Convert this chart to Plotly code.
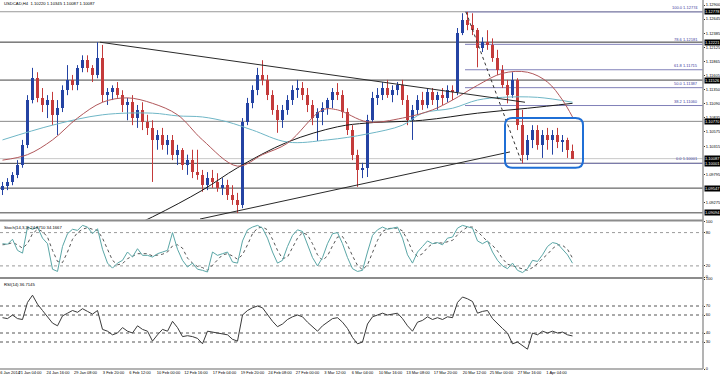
import plotly.graph_objects as go

# ---------------- data (USDCAD H4) ----------------
open_ = [1.0951,1.0959,1.0966,1.0979,1.0997,1.1034,1.1116,1.1156,1.1120,1.1107,
         1.1116,1.1089,1.1101,1.1134,1.1153,1.1143,1.1175,1.1189,1.1175,1.1162,
         1.1193,1.1125,1.1131,1.1138,1.1125,1.1107,1.1112,1.1083,1.1098,1.1076,
         1.1065,1.1043,1.1052,1.1034,1.1043,1.1016,1.1025,1.0997,1.1006,1.0984,
         1.0979,1.0960,1.0973,1.0966,1.0955,1.0960,1.0942,1.0933,1.0924,1.1076,
         1.1110,1.1134,1.1162,1.1153,1.1125,1.1098,1.1079,1.1098,1.1116,1.1134,
         1.1138,1.1125,1.1107,1.1083,1.1094,1.1101,1.1116,1.1131,1.1125,1.1094,
         1.1061,1.1016,1.0988,1.0992,1.1079,1.1120,1.1125,1.1138,1.1125,1.1134,
         1.1143,1.1116,1.1079,1.1098,1.1116,1.1107,1.1131,1.1116,1.1125,1.1120,
         1.1134,1.1131,1.1239,1.1262,1.1253,1.1244,1.1211,1.1222,1.1217,1.1193,
         1.1171,1.1143,1.1125,1.1153,1.1070,1.1016,1.1043,1.1061,1.1034,1.1052,
         1.1043,1.1052,1.1039,1.1043,1.10220]
high_ = [1.0966,1.0973,1.0984,1.1006,1.1043,1.1125,1.1175,1.1167,1.1138,1.1125,
         1.1131,1.1116,1.1143,1.1180,1.1162,1.1180,1.1198,1.1198,1.1180,1.1222,
         1.1217,1.1138,1.1143,1.1149,1.1134,1.1120,1.1125,1.1107,1.1112,1.1089,
         1.1079,1.1061,1.1065,1.1052,1.1052,1.1034,1.1028,1.1016,1.1025,1.1025,
         1.0988,1.0984,1.0988,1.0982,1.0973,1.0970,1.0960,1.0946,1.1083,1.1120,
         1.1143,1.1175,1.1189,1.1162,1.1134,1.1107,1.1107,1.1125,1.1143,1.1153,
         1.1149,1.1138,1.1116,1.1101,1.1112,1.1120,1.1138,1.1147,1.1134,1.1101,
         1.1070,1.1025,1.1001,1.1089,1.1131,1.1138,1.1149,1.1153,1.1143,1.1149,
         1.1153,1.1125,1.1107,1.1125,1.1131,1.1138,1.1138,1.1131,1.1138,1.1143,
         1.1143,1.1248,1.1275,1.12774,1.1275,1.1248,1.1231,1.1244,1.1229,1.1208,
         1.1180,1.1153,1.1167,1.1156,1.1098,1.1052,1.1070,1.1070,1.1061,1.1065,
         1.1061,1.1065,1.1052,1.1047,1.10345]
low_ = [1.0942,1.0951,1.0960,1.0973,1.0992,1.1028,1.1110,1.1112,1.1094,1.1083,
        1.1070,1.1052,1.1094,1.1125,1.1134,1.1134,1.1167,1.1167,1.1149,1.1156,
        1.1112,1.1107,1.1116,1.1120,1.1094,1.1079,1.1070,1.1065,1.1061,1.1052,
        1.0966,1.1025,1.1025,1.1016,1.1006,1.0997,1.0988,1.0979,1.0973,1.0970,
        1.0948,1.0951,1.0955,1.0948,1.0942,1.0933,1.0924,1.0909,1.0918,1.1070,
        1.1101,1.1125,1.1143,1.1116,1.1089,1.1056,1.1065,1.1089,1.1107,1.1120,
        1.1116,1.1094,1.1070,1.1041,1.1070,1.1089,1.1101,1.1116,1.1083,1.1052,
        1.1006,1.0957,1.0973,1.0975,1.1074,1.1107,1.1116,1.1120,1.1112,1.1125,
        1.1107,1.1070,1.1043,1.1089,1.1098,1.1101,1.1107,1.1098,1.1107,1.1112,
        1.1116,1.1125,1.1235,1.1244,1.1235,1.1176,1.1204,1.1208,1.1186,1.1162,
        1.1138,1.1110,1.1120,1.1061,1.10001,1.1006,1.1028,1.1025,1.1010,1.1025,
        1.1016,1.1028,1.1021,1.1010,1.10087]
close_ = [1.0959,1.0966,1.0979,1.0997,1.1034,1.1116,1.1156,1.1120,1.1107,1.1116,
          1.1089,1.1101,1.1134,1.1153,1.1143,1.1175,1.1189,1.1175,1.1162,1.1193,
          1.1125,1.1131,1.1138,1.1125,1.1107,1.1112,1.1083,1.1098,1.1076,1.1065,
          1.1043,1.1052,1.1034,1.1043,1.1016,1.1025,1.0997,1.1006,1.0984,1.0979,
          1.0960,1.0973,1.0966,1.0955,1.0960,1.0942,1.0933,1.0924,1.1076,1.1110,
          1.1134,1.1162,1.1153,1.1125,1.1098,1.1079,1.1098,1.1116,1.1134,1.1138,
          1.1125,1.1107,1.1083,1.1094,1.1101,1.1116,1.1131,1.1125,1.1094,1.1061,
          1.1016,1.0988,1.0992,1.1079,1.1120,1.1125,1.1138,1.1125,1.1134,1.1143,
          1.1116,1.1079,1.1098,1.1116,1.1107,1.1131,1.1116,1.1125,1.1120,1.1134,
          1.1131,1.1239,1.1262,1.1253,1.1244,1.1211,1.1222,1.1217,1.1193,1.1171,
          1.1143,1.1125,1.1153,1.1070,1.1016,1.1043,1.1061,1.1034,1.1052,1.1043,
          1.1052,1.1039,1.1043,1.1025,1.10087]

# moving averages (bar index, value)
ma_fast_idx = [0,5,10,15,20,25,30,35,40,47,52,57,64,67,73,80,86,90,95,100,105,109,112,114]
ma_fast_val = [1.1006,1.1016,1.1043,1.1083,1.1112,1.1120,1.1110,1.1089,1.1043,1.0995,1.1016,1.1037,
               1.1098,1.1098,1.1076,1.1083,1.1098,1.1116,1.1143,1.1165,1.1167,1.1149,1.1116,1.1085]
ma_mid_idx = [0,10,20,30,35,40,45,50,57,65,73,80,84,90,95,100,107,114]
ma_mid_val = [1.1043,1.1070,1.1089,1.1092,1.1087,1.1085,1.1076,1.1061,1.1039,1.1043,1.1054,1.1070,
              1.1092,1.1101,1.1116,1.1121,1.1121,1.1112]
ma_slow_idx = [20,30,40,47,57,67,73,84,95,105,114]
ma_slow_val = [1.0860,1.0902,1.0951,1.0992,1.1039,1.1067,1.1074,1.1079,1.1092,1.1101,1.1110]

stoch_main = [60,59,68,48,43,90,86,90,70,60,
              14,10,55,78,86,84,93,90,78,87,
              50,25,16,25,30,45,36,51,39,39,
              36,42,45,48,80,50,30,18,25,14,
              12,9,45,39,42,45,27,25,65,85,
              90,93,88,70,45,25,30,55,75,85,
              82,60,35,20,35,60,78,80,60,35,
              15,10,12,45,75,85,90,86,88,90,
              70,40,25,45,55,65,60,62,58,70,
              72,88,93,90,88,65,60,65,45,30,
              20,15,25,12,8,15,30,28,40,55,
              62,60,50,40,24.87]
stoch_signal = [58,59,62,58,52,60,78,86,82,72,
                48,28,26,45,68,80,86,89,86,84,
                70,50,30,22,24,33,37,42,42,42,
                38,39,41,45,56,58,52,34,25,19,
                17,12,22,32,40,42,38,32,40,58,
                78,88,90,85,68,48,33,36,52,70,
                80,76,60,40,30,38,56,72,73,58,
                38,21,13,22,44,66,82,87,88,88,
                83,67,46,37,42,53,60,62,61,63,
                66,76,84,90,90,82,72,64,57,47,
                33,23,20,17,15,12,17,24,33,41,
                51,58,57,50,34.17]
rsi = [57,56,60,56,55,74,82,72,65,58,
       51,48,59,62,65,63,67,64,61,65,
       44,42,38,40,46,42,40,48,44,42,
       31,38,44,42,53,46,36,37,36,34,
       28,42,41,40,39,38,33,31,60,65,
       68,70,68,60,53,47,50,55,58,60,
       58,52,47,42,48,52,56,57,52,45,
       35,28,30,50,58,60,62,60,61,62,
       56,48,42,52,54,58,55,57,55,58,
       57,74,80,78,75,62,64,65,56,50,
       45,40,28,30,26,22,40,38,42,40,
       42,40,41,38,36.71]

# horizontal levels, trend lines, fibonacci
h_levels = [1.12778, 1.12221, 1.11526, 1.10770, 1.10001, 1.09547, 1.09094]
h_colors = ["#9a9a9a", "#333333", "#444444", "#8a8a8a", "#444444", "#444444", "#444444"]
bid_level = 1.10087
trend_lines = [  # (idx0, price0, idx1, price1)
    (19.5, 1.1222, 104.5, 1.1112),
    (39.5, 1.0898, 101.5, 1.1021),
]
fib_swing = (92.7, 1.12774, 103.9, 1.10001)
fib_start_idx = 92.5
fib_values = [1.12774, 1.12181, 1.11715, 1.11387, 1.11060, 1.10001]
fib_texts = ["100.0 1.12774", "78.6 1.12181", "61.8 1.11715", "50.0 1.11387", "38.2 1.11060", "0.0 1.10001"]
box_region = (100.5, 116.1, 1.0992, 1.1083)

price_ticks = [1.12900,1.12645,1.12385,1.12125,1.11865,1.11605,1.11350,1.11090,
               1.10835,1.10575,1.10315,1.09795,1.09275]
label_boxes = [1.12778, 1.12221, 1.11526, 1.10770, 1.10087, 1.10001, 1.09547, 1.09094]

first_date = "16 Jan 2014"
date_pos = [5.5,11.1,16.6,22.2,27.5,33.2,38.7,44.4,50.0,55.5,61.0,66.5,72.0,77.6,83.1,88.6,94.4,99.8,105.4,110.8]
date_text = ["21 Jan 04:00","24 Jan 16:00","29 Jan 08:00","3 Feb 20:00","6 Feb 12:00",
             "10 Feb 00:00","12 Feb 16:00","17 Feb 04:00","19 Feb 20:00","24 Feb 08:00","27 Feb 00:00",
             "3 Mar 12:00","6 Mar 04:00","10 Mar 16:00","13 Mar 08:00","17 Mar 20:00","20 Mar 12:00",
             "25 Mar 00:00","27 Mar 16:00","1 Apr 04:00"]

# ---------------- figure ----------------
FONT = "Liberation Sans"
BULL = "#2443a3"
BEAR = "#c43a3a"
FS = 4
idx = list(range(len(close_)))
XR = [-0.5, 140.1]
H = 369.0
D_MAIN = [1 - 219.5 / H, 1]
D_STO = [1 - 277 / H, 1 - 221.5 / H]
D_RSI = [0, 1 - 279 / H]

fig = go.Figure()

body_base = [min(o, c) for o, c in zip(open_, close_)]
body_len = [max(abs(c - o), 0.00004) for o, c in zip(open_, close_)]
body_col = [BULL if c >= o else BEAR for o, c in zip(open_, close_)]
for col in (BULL, BEAR):
    wx, wy = [], []
    for i in idx:
        if body_col[i] == col:
            wx += [i, i, None]
            wy += [low_[i], high_[i], None]
    fig.add_trace(go.Scatter(x=wx, y=wy, mode="lines", line=dict(color=col, width=1),
                             showlegend=False, hoverinfo="skip", xaxis="x", yaxis="y"))
fig.add_trace(go.Bar(x=idx, y=body_len, base=body_base, width=0.55, marker=dict(color=body_col, line=dict(width=0)),
                     showlegend=False, hoverinfo="skip", xaxis="x", yaxis="y"))

fig.add_trace(go.Scatter(x=ma_slow_idx, y=ma_slow_val, mode="lines", line=dict(color="#1a1a1a", width=1, shape="spline"),
                         showlegend=False, xaxis="x", yaxis="y"))
fig.add_trace(go.Scatter(x=ma_mid_idx, y=ma_mid_val, mode="lines", line=dict(color="#6fb6c6", width=1, shape="spline"),
                         showlegend=False, xaxis="x", yaxis="y"))
fig.add_trace(go.Scatter(x=ma_fast_idx, y=ma_fast_val, mode="lines", line=dict(color="#b0575a", width=1, shape="spline"),
                         showlegend=False, xaxis="x", yaxis="y"))
fig.add_trace(go.Scatter(x=idx, y=stoch_signal, mode="lines", line=dict(color="#555555", width=1, dash="dot"),
                         showlegend=False, xaxis="x2", yaxis="y2"))
fig.add_trace(go.Scatter(x=idx, y=stoch_main, mode="lines", line=dict(color="#5aa6a6", width=1),
                         showlegend=False, xaxis="x2", yaxis="y2"))
fig.add_trace(go.Scatter(x=idx, y=rsi, mode="lines", line=dict(color="#3a3a3a", width=1),
                         showlegend=False, xaxis="x3", yaxis="y3"))

shapes = []
for v, c in zip(h_levels, h_colors):
    shapes.append(dict(type="line", xref="x domain", yref="y", x0=0, x1=1, y0=v, y1=v,
                       line=dict(color=c, width=1), layer="below"))
shapes.append(dict(type="line", xref="x domain", yref="y", x0=0, x1=1, y0=bid_level, y1=bid_level,
                   line=dict(color="#c8c8c8", width=1), layer="below"))
for (a, pa, b, pb) in trend_lines:
    shapes.append(dict(type="line", xref="x", yref="y", x0=a, x1=b, y0=pa, y1=pb,
                       line=dict(color="#2a2a2a", width=1)))
shapes.append(dict(type="line", xref="x", yref="y", x0=fib_swing[0], x1=fib_swing[2], y0=fib_swing[1], y1=fib_swing[3],
                   line=dict(color="#333333", width=1, dash="dot")))
for v in fib_values:
    shapes.append(dict(type="line", xref="x", yref="y", x0=fib_start_idx, x1=XR[1], y0=v, y1=v,
                       line=dict(color="#8080b8", width=1), layer="below"))
bx0, bx1, by0, by1 = box_region
rx, ry = 1.5, 0.0013
path = (f"M {bx0+rx},{by1} L {bx1-rx},{by1} Q {bx1},{by1} {bx1},{by1-ry} "
        f"L {bx1},{by0+ry} Q {bx1},{by0} {bx1-rx},{by0} L {bx0+rx},{by0} "
        f"Q {bx0},{by0} {bx0},{by0+ry} L {bx0},{by1-ry} Q {bx0},{by1} {bx0+rx},{by1} Z")
shapes.append(dict(type="path", xref="x", yref="y", path=path, line=dict(color="#1f6fd6", width=2)))
for v in [80, 20]:
    shapes.append(dict(type="line", xref="x2 domain", yref="y2", x0=0, x1=1, y0=v, y1=v,
                       line=dict(color="#9a9a9a", width=1, dash="dot"), layer="below"))
for v in [70, 60, 40, 30]:
    shapes.append(dict(type="line", xref="x3 domain", yref="y3", x0=0, x1=1, y0=v, y1=v,
                       line=dict(color="#555555", width=1, dash="dot"), layer="below"))
for yy in [1 - 220.5 / H, 1 - 278 / H]:
    shapes.append(dict(type="line", xref="paper", yref="paper", x0=0, x1=1, y0=yy, y1=yy,
                       line=dict(color="#8c8c8c", width=2)))
shapes.append(dict(type="line", xref="paper", yref="paper", x0=1, x1=1, y0=0, y1=1,
                   line=dict(color="#9a9a9a", width=1.5)))
shapes.append(dict(type="line", xref="paper", yref="paper", x0=0, x1=1, y0=0, y1=0,
                   line=dict(color="#9a9a9a", width=1.5)))

ann = []
for v in label_boxes:
    ann.append(dict(xref="paper", yref="y", x=1, y=v, xanchor="left", yanchor="middle", xshift=1,
                    text=f"{v:.5f}", showarrow=False, bgcolor="black", borderpad=0,
                    font=dict(family=FONT, size=FS, color="white")))
for v, t in zip(fib_values, fib_texts):
    ann.append(dict(xref="paper", yref="y", x=0.996, y=v, xanchor="right", yanchor="bottom",
                    text=t, showarrow=False, font=dict(family=FONT, size=FS, color="#3d3d9e")))
ann.append(dict(xref="paper", yref="paper", x=0.003, y=1 - 4 / H, xanchor="left", yanchor="middle",
                text="USDCAD,H4  1.10220 1.10345 1.10087 1.10087", showarrow=False,
                font=dict(family=FONT, size=4.2, color="black")))
ann.append(dict(xref="paper", yref="paper", x=0.003, y=1 - 227 / H, xanchor="left", yanchor="middle",
                text="Stoch(14,3,3) 24.8710 34.1667", showarrow=False,
                font=dict(family=FONT, size=4.2, color="black")))
ann.append(dict(xref="paper", yref="paper", x=0.003, y=1 - 284.5 / H, xanchor="left", yanchor="middle",
                text="RSI(14) 36.7145", showarrow=False,
                font=dict(family=FONT, size=4.2, color="black")))
ann.append(dict(xref="paper", yref="paper", x=0, y=0, xanchor="left", yanchor="top", xshift=-4, yshift=1.5,
                text=first_date, showarrow=False, font=dict(family=FONT, size=FS, color="black")))

tickfont = dict(family=FONT, size=FS, color="black")
xcommon = dict(range=XR, showgrid=False, zeroline=False, showticklabels=False, ticks="", fixedrange=True)
fig.update_layout(
    width=720, height=376, margin=dict(l=0, r=17, t=0, b=7, autoexpand=False),
    paper_bgcolor="white", plot_bgcolor="white", showlegend=False, bargap=0, barmode="overlay",
    xaxis=dict(**xcommon, anchor="y", domain=[0, 1]),
    xaxis2=dict(**xcommon, anchor="y2", domain=[0, 1], matches="x"),
    xaxis3=dict(range=XR, showgrid=False, zeroline=False, anchor="y3", domain=[0, 1], matches="x",
                tickmode="array", tickvals=date_pos, ticktext=date_text, tickfont=tickfont,
                tickangle=0, ticks="", automargin=False),
    yaxis=dict(domain=D_MAIN, range=[1.08972, 1.12993], side="right", showgrid=False, zeroline=False,
               tickmode="array", tickvals=price_ticks, ticktext=[f"{v:.5f}" for v in price_ticks],
               tickfont=tickfont, ticks="outside", ticklen=1, tickcolor="#333", automargin=False),
    yaxis2=dict(domain=D_STO, range=[0, 100], side="right", showgrid=False, zeroline=False,
                tickmode="array", tickvals=[100, 80, 20, 0], ticktext=["100", "80", "20", "0"],
                tickfont=tickfont, ticks="outside", ticklen=1, tickcolor="#333", automargin=False),
    yaxis3=dict(domain=D_RSI, range=[0, 100], side="right", showgrid=False, zeroline=False,
                tickmode="array", tickvals=[100, 70, 60, 40, 30, 0],
                ticktext=["100", "70", "60", "40", "30", "0"],
                tickfont=tickfont, ticks="outside", ticklen=1, tickcolor="#333", automargin=False),
    shapes=shapes, annotations=ann,
)
fig.write_html("out.html", config={"displayModeBar": False, "staticPlot": True},
               post_script="document.body.style.margin='0px';document.body.style.padding='0px';")
